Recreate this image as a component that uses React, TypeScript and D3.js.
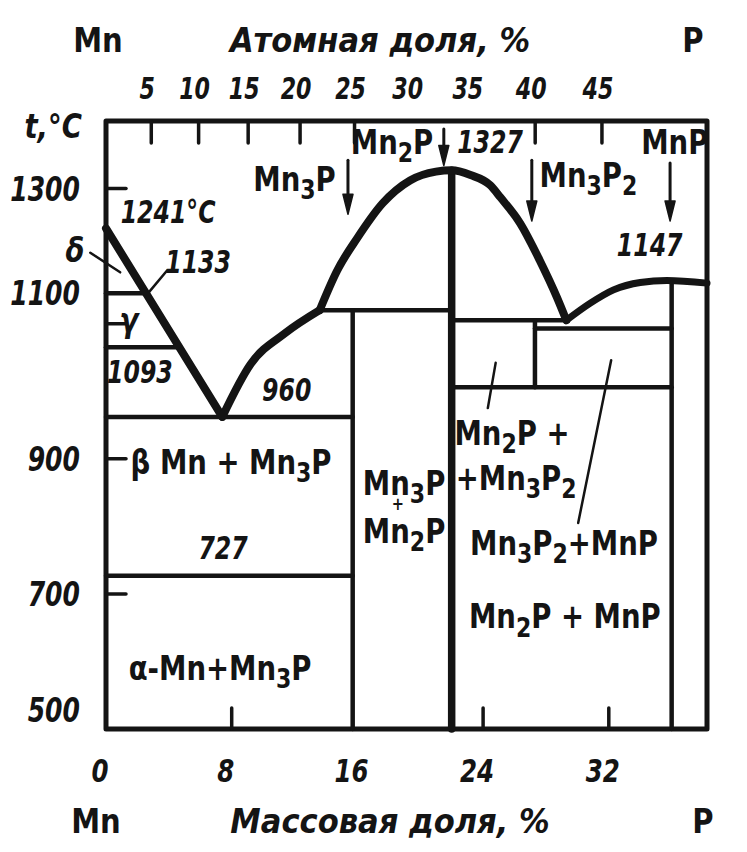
import React from 'react';
import * as d3 from 'd3';

// ---------- data ----------
const massTickValues = [0, 8, 16, 24, 32];
const massTickMarks = [8, 24, 32];
const atomicTickValues = [5, 10, 15, 20, 25, 30, 35, 40, 45];
const atomicTickMarks = [5, 10, 15, 20, 25, 40, 45];
const tempTickValues = [1300, 1100, 900, 700, 500];
const tempTickMarks = [1300, 1100, 900, 700];

// liquidus branches [wt% P, t °C]
const liquidusMn: [number, number][] = [[0, 1241], [7.4, 962]];
const liquidusMn3P: [number, number][] = [[7.4, 962], [9.2, 1040], [11.4, 1086], [13.6, 1120]];
const liquidusMn2P: [number, number][] = [
  [13.6, 1120], [14.7, 1178], [16.0, 1227], [17.6, 1278], [19.35, 1312], [21.0, 1325], [22.0, 1327],
  [23.2, 1320], [24.45, 1305], [25.1, 1287], [26.35, 1249], [27.6, 1194], [28.7, 1139], [29.3, 1105],
];
const liquidusMnP: [number, number][] = [[29.3, 1105], [30.8, 1130], [32.3, 1150], [34.0, 1161], [35.7, 1164], [38.25, 1160]];

// compound lines
const compoundNames = ['Mn3P', 'Mn2P', 'Mn3P2', 'MnP'];
const compoundWt = [15.7, 22.0, 27.3, 36.0];
const compoundTop = [1120, 1327, 1105, 1163];
const compoundBottom = [500, 500, 1006, 500];

// isotherms [t, from wt, to wt]
const isotherms: [number, number, number][] = [
  [1145, 0, NaN], [1065, 0, NaN], [962, 0, 15.7], [727, 0, 15.7],
  [1120, 13.6, 22.0], [1105, 22.0, 29.3], [1093, 27.3, 36.0], [1006, 22.0, 36.0],
];

// composition arrows [wt, t from, t to]
const arrows: [number, number, number][] = [[15.4, 1342, 1262], [21.5, 1388, 1334], [27.1, 1342, 1252], [35.9, 1338, 1252]];

// leader lines [wt1, t1, wt2, t2]
const leaders: [number, number, number, number][] = [
  [-1.0, 1205, 0.9, 1176], [2.75, 1147, 3.9, 1179], [24.8, 1042, 24.3, 975], [32.15, 1046, 30.05, 805],
];

// labels
const phaseLabels = ['β Mn + Mn3P', 'α-Mn+Mn3P', 'Mn2P +', '+Mn3P2', 'Mn3P2+MnP', 'Mn2P + MnP', 'Mn3P', 'Mn2P', 'Mn3P2', 'MnP', 'δ', 'γ'];
const phaseWt = [7.96, 7.26, 25.84, 26.1, 29.15, 29.2, 12.0, 18.2, 30.7, 36.2, -1.97, 1.46];
const phaseT = [895, 590, 938, 871, 775, 666, 1313, 1369, 1320, 1369, 1209, 1105];

// stacked label in the Mn3P–Mn2P field
const stackedLines = ['Mn3P', '+', 'Mn2P'];
const stackedWt = 18.97;
const stackedT = 864;

const numLabels = ['1241°C', '1133', '1093', '960', '727', '1327', '1147'];
const numWt = [3.95, 5.86, 2.16, 11.5, 7.45, 24.44, 34.6];
const numT = [1265, 1191, 1028, 1002, 768, 1369, 1216];

// ---------- helpers ----------
const W = 747, H = 852;
const FONT = '"DejaVu Sans Condensed", "Liberation Sans Narrow", "DejaVu Sans", sans-serif';
const INK = '#141414';

const x = d3.scaleLinear().domain([0, 38.25]).range([106, 707]);
const y = d3.scaleLinear().domain([500, 1400]).range([729, 121]);

// wt% P from atomic % P
const atToWt = (a: number) => (a * 30.97) / (a * 30.97 + (100 - a) * 54.94) * 100;

const line = d3.line<[number, number]>().x(d => x(d[0])).y(d => y(d[1])).curve(d3.curveMonotoneX);
const straight = d3.line<[number, number]>().x(d => x(d[0])).y(d => y(d[1]));

const liqInv = d3.scaleLinear().domain([liquidusMn[0][1], liquidusMn[1][1]]).range([liquidusMn[0][0], liquidusMn[1][0]]);

function formula(s: string, size: number) {
  const parts: React.ReactNode[] = [];
  let key = 0;
  let buf = '';
  let shifted = false;
  const up = -size * 0.3;
  for (let i = 0; i < s.length; i++) {
    const ch = s[i];
    const isSub = /[0-9]/.test(ch) && i > 0 && /[A-Za-z]/.test(s[i - 1]);
    if (isSub) {
      if (buf) parts.push(<tspan key={key++} dy={shifted ? up : undefined}>{buf}</tspan>);
      else if (shifted) parts.push(<tspan key={key++} dy={up}>{''}</tspan>);
      buf = '';
      parts.push(<tspan key={key++} dy={size * 0.3} fontSize={size * 0.8}>{ch}</tspan>);
      shifted = true;
    } else {
      buf += ch;
    }
  }
  if (buf) parts.push(<tspan key={key++} dy={shifted ? up : undefined}>{buf}</tspan>);
  return parts;
}

function Label(props: { px: number; py: number; sx: number; size: number; italic?: boolean; anchor?: string; children: React.ReactNode }) {
  const { px, py, sx, size, italic, anchor, children } = props;
  return (
    <text transform={`translate(${px},${py}) scale(${sx},1)`} x={0} y={0} textAnchor={anchor || 'middle'}
      dominantBaseline="central" fontSize={size} fontStyle={italic ? 'italic' : 'normal'}>
      {children}
    </text>
  );
}

export default function App() {
  const frameL = x(0), frameR = x(38.25), frameT = y(1400), frameB = y(500);
  const phaseSize = 34;
  const numSize = 32;
  return (
    <svg width={W} height={H} viewBox={`0 0 ${W} ${H}`} style={{ position: 'absolute', left: 0, top: 0, background: '#fff' }}>
      <rect x={0} y={0} width={W} height={H} fill="#fff" />
      <g fill="none" stroke={INK} strokeLinecap="round" strokeLinejoin="round">
        <rect x={frameL} y={frameT} width={frameR - frameL} height={frameB - frameT} strokeWidth={5} />
        {massTickMarks.map(v => <line key={'mt' + v} x1={x(v)} x2={x(v)} y1={frameB} y2={frameB - 21} strokeWidth={3.5} />)}
        {atomicTickMarks.map(v => <line key={'at' + v} x1={x(atToWt(v))} x2={x(atToWt(v))} y1={frameT} y2={frameT + 22} strokeWidth={3.5} />)}
        {tempTickMarks.map(v => <line key={'tt' + v} x1={frameL} x2={frameL + 20} y1={y(v)} y2={y(v)} strokeWidth={3.5} />)}
        {isotherms.map(([t, a, b], i) => (
          <line key={'iso' + i} x1={x(a)} x2={x(isNaN(b) ? liqInv(t) : b)} y1={y(t)} y2={y(t)} strokeWidth={4.5} />
        ))}
        {compoundNames.map((n, i) => (
          <line key={'cl' + i} x1={x(compoundWt[i])} x2={x(compoundWt[i])} y1={y(compoundTop[i])} y2={y(compoundBottom[i])}
            strokeWidth={n === 'Mn2P' ? 7.5 : 4.5} />
        ))}
        <path d={straight(liquidusMn) || ''} strokeWidth={8} />
        <path d={line(liquidusMn3P) || ''} strokeWidth={8} />
        <path d={line(liquidusMn2P) || ''} strokeWidth={8} />
        <path d={line(liquidusMnP) || ''} strokeWidth={7} />
        {leaders.map((l, i) => (
          <line key={'ld' + i} x1={x(l[0])} y1={y(l[1])} x2={x(l[2])} y2={y(l[3])} strokeWidth={2.5} />
        ))}
        {arrows.map((a, i) => (
          <g key={'ar' + i}>
            <line x1={x(a[0])} x2={x(a[0])} y1={y(a[1])} y2={y(a[2]) - 14} strokeWidth={3} />
            <path d={`M${x(a[0]) - 5},${y(a[2]) - 20} L${x(a[0]) + 5},${y(a[2]) - 20} L${x(a[0])},${y(a[2])} Z`} fill={INK} strokeWidth={1.5} />
          </g>
        ))}
      </g>

      <g fill={INK} fontFamily={FONT} fontWeight="bold">
        {phaseLabels.map((s, i) => (
          <Label key={'pl' + i} px={x(phaseWt[i])} py={y(phaseT[i])} sx={0.9}
            size={phaseSize} italic={s === 'δ' || s === 'γ'}>
            {formula(s, phaseSize)}
          </Label>
        ))}
        <Label px={x(stackedWt)} py={y(stackedT)} sx={0.9} size={phaseSize}>
          <tspan x={0}>{formula(stackedLines[0], phaseSize)}</tspan>
          <tspan x={-7} dy={21} fontSize={18}>{stackedLines[1]}</tspan>
          <tspan x={0} dy={27}>{formula(stackedLines[2], phaseSize)}</tspan>
        </Label>
        {numLabels.map((s, i) => (
          <Label key={'nl' + i} px={x(numWt[i])} py={y(numT[i])} sx={0.82} size={numSize} italic>{s}</Label>
        ))}
        {tempTickValues.map(v => (
          <Label key={'tl' + v} px={frameL - 26} py={v === 500 ? y(v) - 19 : v === 1100 ? y(v) - 31 : y(v)} sx={0.82}
            size={34} italic anchor="end">{v}</Label>
        ))}
        <Label px={82} py={126} sx={0.9} size={34} italic anchor="end">t,°C</Label>
        {massTickValues.map(v => (
          <Label key={'ml' + v} px={x(v) - 6} py={771} sx={0.85} size={32} italic>{v}</Label>
        ))}
        <Label px={96} py={821} sx={0.95} size={34}>Mn</Label>
        <Label px={390} py={821} sx={1} size={34} italic>Массовая доля, %</Label>
        <Label px={703} py={821} sx={0.95} size={34}>P</Label>
        {atomicTickValues.map(v => (
          <Label key={'al' + v} px={x(atToWt(v)) - 4} py={89} sx={0.82} size={30} italic>{v}</Label>
        ))}
        <Label px={98} py={40} sx={0.95} size={34}>Mn</Label>
        <Label px={380} py={40} sx={1} size={34} italic>Атомная доля, %</Label>
        <Label px={693} py={40} sx={0.95} size={34}>P</Label>
      </g>
    </svg>
  );
}
